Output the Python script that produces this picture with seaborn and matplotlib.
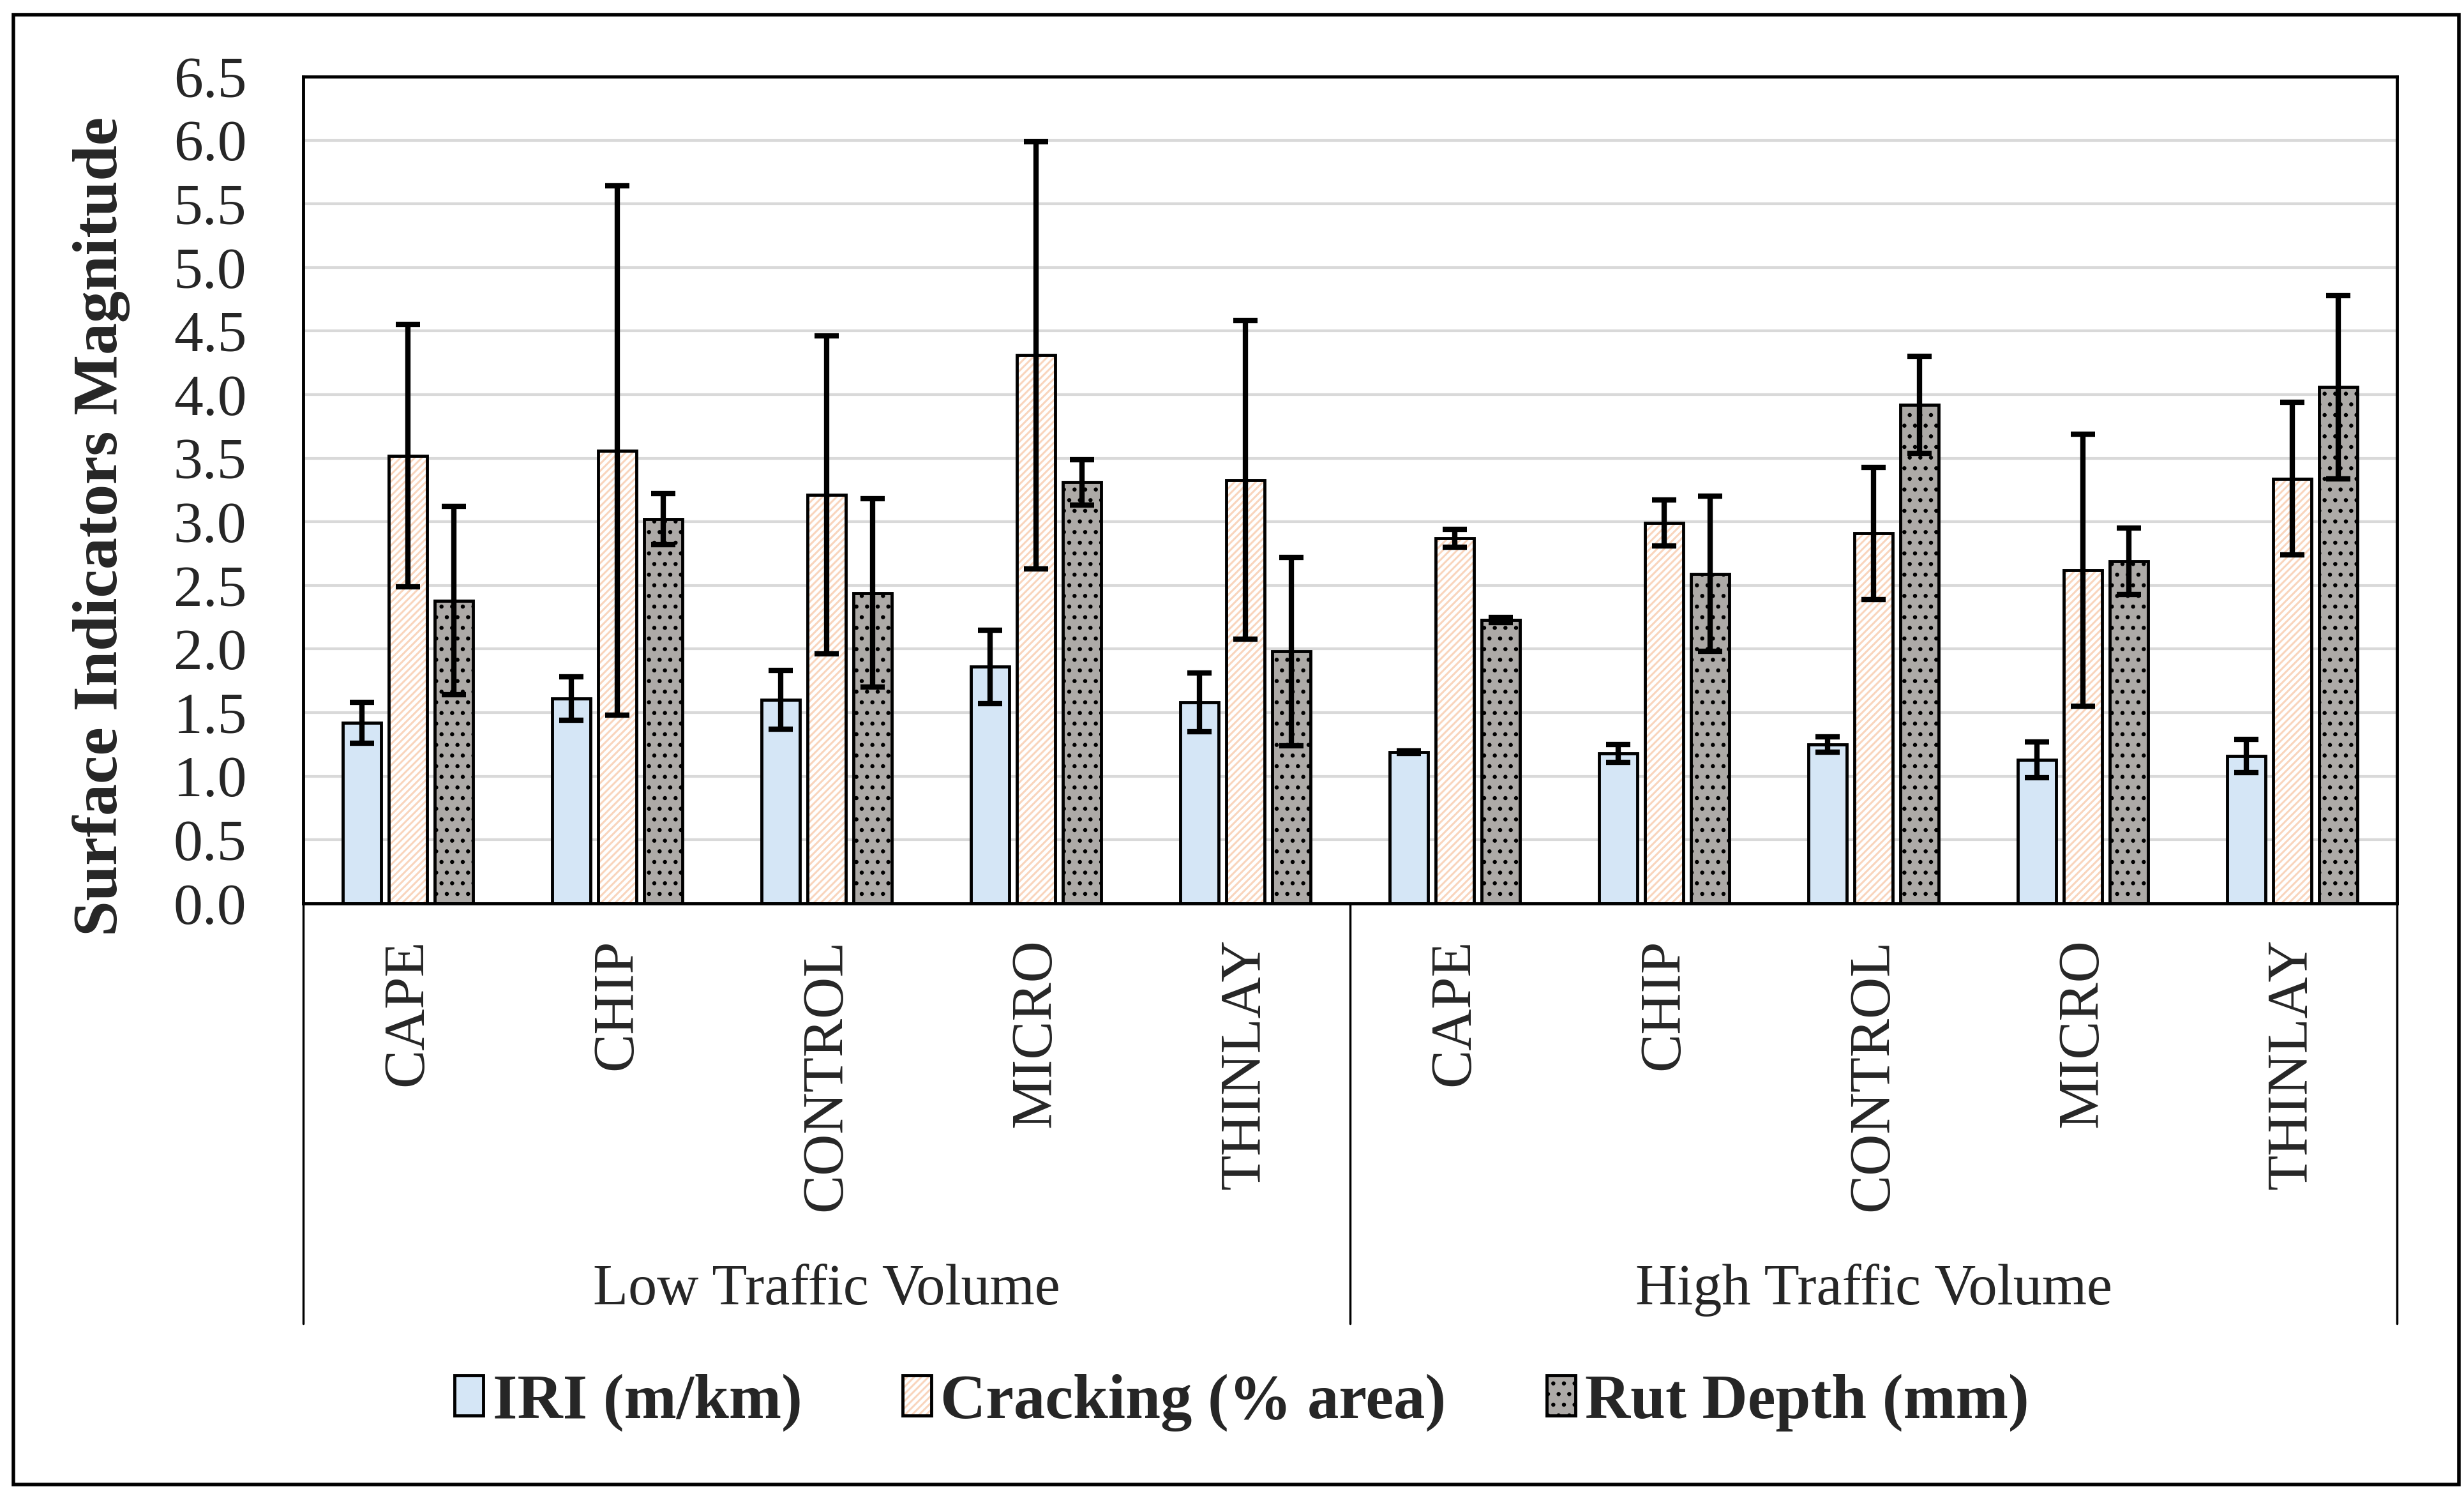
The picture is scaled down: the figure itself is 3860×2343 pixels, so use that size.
import numpy as np
import pandas as pd
import seaborn as sns
import matplotlib.pyplot as plt
from matplotlib.patches import Rectangle, Patch
from matplotlib.legend_handler import HandlerTuple

# Data (low traffic volume first, then high)
treatments = ['CAPE', 'CHIP', 'CONTROL', 'MICRO', 'THINLAY']
volumes = ['Low Traffic Volume', 'High Traffic Volume']
indicators = ['IRI (m/km)', 'Cracking (% area)', 'Rut Depth (mm)']

iri_mean = [1.42, 1.61, 1.60, 1.86, 1.58, 1.19, 1.18, 1.25, 1.13, 1.16]
iri_err = [0.16, 0.17, 0.23, 0.29, 0.23, 0.01, 0.07, 0.06, 0.14, 0.13]
crack_mean = [3.52, 3.56, 3.21, 4.31, 3.33, 2.87, 2.99, 2.91, 2.62, 3.34]
crack_err = [1.03, 2.08, 1.25, 1.68, 1.25, 0.07, 0.18, 0.52, 1.07, 0.60]
rut_mean = [2.38, 3.02, 2.44, 3.31, 1.98, 2.23, 2.59, 3.92, 2.69, 4.06]
rut_err = [0.74, 0.20, 0.74, 0.18, 0.74, 0.02, 0.61, 0.38, 0.26, 0.72]

means = [iri_mean, crack_mean, rut_mean]
errs = [iri_err, crack_err, rut_err]

# long form table for seaborn
keys = [v + '|' + t for v in volumes for t in treatments]
rows = []
for ind, m in zip(indicators, means):
    for k, val in zip(keys, m):
        rows.append({'key': k, 'indicator': ind, 'value': val})
df = pd.DataFrame(rows)

sns.set_theme(style='white')
plt.rcParams['font.family'] = ['Liberation Serif', 'DejaVu Serif']
plt.rcParams['hatch.linewidth'] = 2.2

face = ['#D5E6F6', '#FFFFFF', '#ADAAA7']
hatch_col = ['none', '#F9D5BD', '#000000']
hatches = ['', '///', '.']

fig = plt.figure(figsize=(38.6, 23.43), dpi=100)
ax = fig.add_axes([0.1231, 0.3961, 0.8497, 0.5527])

sns.barplot(data=df, x='key', y='value', hue='indicator', order=keys,
            hue_order=indicators, palette=face, width=0.66, gap=0.17,
            errorbar=None, legend=False, ax=ax)

bar_groups = list(ax.containers)
for i, cont in enumerate(bar_groups):
    for j, bar in enumerate(cont.patches):
        bar.set_facecolor(face[i])
        bar.set_edgecolor(hatch_col[i])
        bar.set_linewidth(0)
        bar.set_hatch(hatches[i])
        x, w, h = bar.get_x(), bar.get_width(), bar.get_height()
        ax.add_patch(Rectangle((x, 0), w, h, fill=False, edgecolor='black',
                               linewidth=3.5, zorder=bar.get_zorder() + 0.1))
        ax.errorbar(x + w / 2, h, yerr=errs[i][j], fmt='none', ecolor='black',
                    elinewidth=6, capsize=14, capthick=6, zorder=5)

ax.set_xlim(-0.5, len(keys) - 0.5)
ax.set_ylim(0, 6.5)
ax.set_yticks(np.arange(0, 6.51, 0.5))
ax.set_yticklabels([f'{v:.1f}' for v in np.arange(0, 6.51, 0.5)], fontsize=66)
ax.set_xticks(range(len(keys)))
ax.set_xticklabels(treatments * 2, rotation=90, fontsize=65)
ax.tick_params(axis='y', length=0, pad=64)
ax.tick_params(axis='x', length=0, pad=40)
ax.set_xlabel('')
ax.set_ylabel('')

ax.yaxis.grid(True, color='#D9D9D9', linewidth=3)
ax.set_axisbelow(True)
for s in ax.spines.values():
    s.set_color('black')
    s.set_linewidth(3.5)

# category separators and group labels below the axis
tr = ax.get_xaxis_transform()
for xv in [-0.5, 4.5, 9.5]:
    ax.plot([xv, xv], [0, -0.508], color='black', lw=2.5, transform=tr,
            clip_on=False)
for g, name in enumerate(volumes):
    ax.text(g * 5 + 2, -0.468, name, transform=tr, ha='center', va='center',
            fontsize=65)

fig.text(0.041, 0.648, 'Surface Indicators Magnitude', rotation=90,
         ha='center', va='center', fontsize=72, fontweight='bold')

handles = []
for i in range(3):
    handles.append((Patch(facecolor=face[i], edgecolor=hatch_col[i],
                          hatch=hatches[i], linewidth=0),
                    Patch(fill=False, edgecolor='black', linewidth=3.5)))
fig.legend(handles, indicators, loc='center', bbox_to_anchor=(0.504, 0.0625),
           ncol=3, frameon=False, handler_map={tuple: HandlerTuple(ndivide=1)},
           handlelength=0.45, handleheight=0.6, handletextpad=0.15,
           columnspacing=1.6,
           prop={'family': 'Liberation Serif', 'weight': 'bold', 'size': 71})

fig.add_artist(Rectangle((21 / 3860, 1 - 2325 / 2343), 3831 / 3860,
                         2302 / 2343, transform=fig.transFigure, fill=False,
                         edgecolor='black', linewidth=4))

fig.savefig('out.png', dpi=100)
